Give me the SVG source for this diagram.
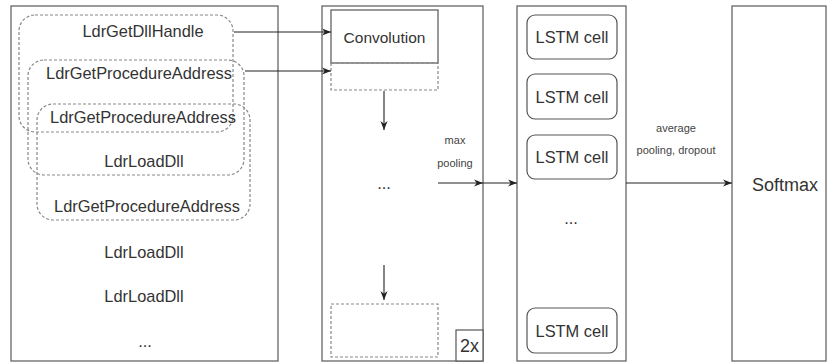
<svg xmlns="http://www.w3.org/2000/svg" width="829" height="363" viewBox="0 0 829 363">
<defs>
<style>
.panel{fill:#fff;stroke:#666;stroke-width:1.3}
.solid{fill:#fff;stroke:#555;stroke-width:1.2}
.dash{fill:none;stroke:#888;stroke-width:1.2;stroke-dasharray:3 2}
.cell{fill:#fff;stroke:#555;stroke-width:1.2}
.t{font-family:"Liberation Sans",Arial,sans-serif;fill:#333;text-anchor:middle;dominant-baseline:central}
.big{font-size:16.4px}
.sm{font-size:11px;fill:#444}
.line{fill:none;stroke:#222;stroke-width:1.1}
</style>
<marker id="ah" viewBox="0 0 10 10" refX="10" refY="5" markerWidth="9" markerHeight="9" markerUnits="userSpaceOnUse" orient="auto">
<path d="M0,1 L10,5 L0,9 L3,5 Z" fill="#222"/>
</marker>
</defs>
<g id="input">
<rect class="panel" x="11" y="6" width="267" height="355"/>
<rect class="dash" x="19" y="15" width="214" height="117" rx="16"/>
<rect class="dash" x="28" y="60" width="216" height="115" rx="16"/>
<rect class="dash" x="37" y="104" width="213" height="116" rx="16"/>
<text class="t big" x="143" y="31">LdrGetDllHandle</text>
<text class="t big" x="139" y="73">LdrGetProcedureAddress</text>
<text class="t big" x="143" y="117">LdrGetProcedureAddress</text>
<text class="t big" x="144" y="161">LdrLoadDll</text>
<text class="t big" x="147" y="206">LdrGetProcedureAddress</text>
<text class="t big" x="144" y="252">LdrLoadDll</text>
<text class="t big" x="144" y="296">LdrLoadDll</text>
<text class="t big" x="145" y="341">...</text>
</g>
<g id="cnn">
<rect class="panel" x="322" y="6" width="161" height="355"/>
<rect class="solid" x="331" y="10" width="107" height="53"/>
<text class="t" x="384.5" y="37" style="font-size:15.5px">Convolution</text>
<rect class="dash" x="331" y="63" width="107" height="27"/>
<text class="t big" x="384" y="183">...</text>
<rect class="dash" x="331" y="304" width="107" height="53"/>
<rect class="solid" x="456" y="330" width="27" height="31"/>
<text class="t" x="469.5" y="346" style="font-size:18px">2x</text>
</g>
<g id="lstm">
<rect class="panel" x="517" y="6" width="109" height="355"/>
<rect class="cell" x="527" y="15" width="90" height="44" rx="8"/>
<text class="t big" x="572" y="37">LSTM cell</text>
<rect class="cell" x="527" y="74" width="90" height="45" rx="8"/>
<text class="t big" x="572" y="97">LSTM cell</text>
<rect class="cell" x="527" y="135" width="90" height="44" rx="8"/>
<text class="t big" x="572" y="157">LSTM cell</text>
<text class="t big" x="571" y="218">...</text>
<rect class="cell" x="527" y="308" width="90" height="45" rx="8"/>
<text class="t big" x="572" y="331">LSTM cell</text>
</g>
<g id="softmax">
<rect class="panel" x="732" y="6" width="94" height="355"/>
<text class="t" x="785" y="185" style="font-size:18px">Softmax</text>
</g>
<g id="connectors">
<line class="line" x1="234" y1="32" x2="331" y2="32" marker-end="url(#ah)"/>
<line class="line" x1="245" y1="71" x2="331" y2="71" marker-end="url(#ah)"/>
<line class="line" x1="384" y1="91" x2="384" y2="130" marker-end="url(#ah)"/>
<line class="line" x1="384" y1="265" x2="384" y2="300" marker-end="url(#ah)"/>
<line class="line" x1="438" y1="183" x2="483" y2="183" marker-end="url(#ah)"/>
<line class="line" x1="483" y1="183" x2="517" y2="183" marker-end="url(#ah)"/>
<line class="line" x1="626" y1="183" x2="732" y2="183" marker-end="url(#ah)"/>
<text class="t sm" x="455" y="140">max</text>
<text class="t sm" x="455" y="163">pooling</text>
<text class="t sm" x="676" y="128">average</text>
<text class="t sm" x="676" y="150">pooling, dropout</text>
</g>
</svg>
